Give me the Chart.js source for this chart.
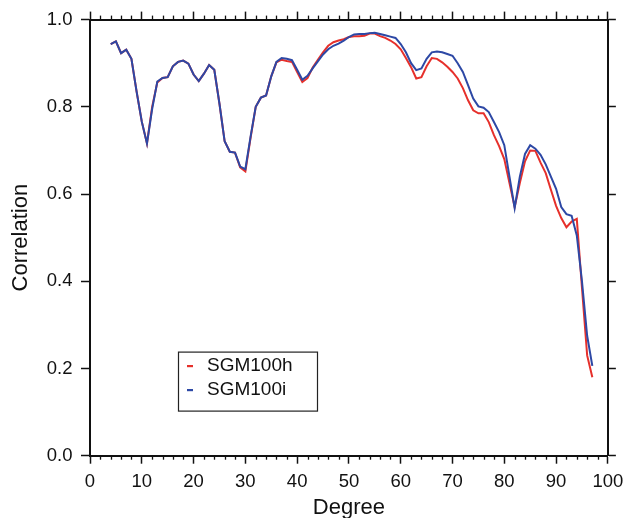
<!DOCTYPE html>
<html><head><meta charset="utf-8">
<script src="https://cdn.jsdelivr.net/npm/chart.js@4.4.1/dist/chart.umd.min.js"></script>
<style>html,body{margin:0;padding:0;background:#fff}#wrap{width:630px;height:518px;position:relative}</style>
</head><body><div id="wrap"><canvas id="c" width="630" height="518"></canvas></div>
<script>
const degrees = [4,5,6,7,8,9,10,11,12,13,14,15,16,17,18,19,20,21,22,23,24,25,26,27,28,29,30,31,32,33,34,35,36,37,38,39,40,41,42,43,44,45,46,47,48,49,50,51,52,53,54,55,56,57,58,59,60,61,62,63,64,65,66,67,68,69,70,71,72,73,74,75,76,77,78,79,80,81,82,83,84,85,86,87,88,89,90,91,92,93,94,95,96,97];
const sgm100h = [0.944,0.950,0.923,0.931,0.910,0.835,0.766,0.716,0.800,0.856,0.866,0.868,0.893,0.903,0.906,0.899,0.874,0.859,0.876,0.896,0.885,0.807,0.721,0.697,0.695,0.661,0.652,0.728,0.800,0.821,0.826,0.870,0.902,0.908,0.905,0.903,0.880,0.857,0.866,0.890,0.908,0.925,0.940,0.948,0.952,0.955,0.960,0.962,0.962,0.963,0.968,0.968,0.962,0.958,0.952,0.944,0.932,0.912,0.891,0.865,0.868,0.893,0.912,0.910,0.902,0.892,0.880,0.865,0.843,0.815,0.792,0.785,0.785,0.765,0.735,0.710,0.680,0.625,0.570,0.625,0.675,0.700,0.699,0.672,0.648,0.610,0.573,0.545,0.524,0.537,0.543,0.385,0.230,0.180];
const sgm100i = [0.944,0.950,0.923,0.931,0.910,0.835,0.766,0.716,0.795,0.858,0.866,0.868,0.893,0.903,0.906,0.899,0.874,0.859,0.876,0.896,0.885,0.807,0.721,0.697,0.695,0.663,0.657,0.731,0.800,0.821,0.826,0.870,0.903,0.912,0.910,0.907,0.885,0.862,0.871,0.888,0.904,0.920,0.932,0.940,0.945,0.952,0.960,0.966,0.967,0.967,0.969,0.970,0.967,0.964,0.961,0.958,0.944,0.925,0.900,0.884,0.888,0.910,0.925,0.927,0.925,0.921,0.917,0.900,0.880,0.850,0.819,0.801,0.798,0.788,0.765,0.742,0.712,0.640,0.568,0.640,0.692,0.712,0.704,0.690,0.668,0.640,0.612,0.570,0.554,0.550,0.505,0.400,0.275,0.206];
const seriesNames = ['SGM100h','SGM100i'];
const seriesColors = ['#e6302b','#2d48a5'];
const xTicks = [0,10,20,30,40,50,60,70,80,90,100];
const xMinorTicks = [2,4,6,8,12,14,16,18,22,24,26,28,32,34,36,38,42,44,46,48,52,54,56,58,62,64,66,68,72,74,76,78,82,84,86,88,92,94,96,98];
const yTicks = [0,0.2,0.4,0.6,0.8,1.0];

const FONT = "'Liberation Sans', Arial, Helvetica, sans-serif";
const INK = '#111';
Chart.defaults.color = INK;
Chart.defaults.font.family = FONT;

const toPts = vals => degrees.map((d, i) => ({x: d, y: vals[i]}));
const setTicks = arr => s => { s.ticks = arr.map(v => ({value: v})); };

const frameTicks = {
  id: 'frameTicks',
  afterDraw(chart) {
    const {ctx, chartArea: a, scales} = chart;
    ctx.save();
    ctx.strokeStyle = INK; ctx.lineWidth = 1.3;
    xMinorTicks.forEach(v => {
      const px = Math.round(scales.x.getPixelForValue(v)) + 0.5;
      ctx.beginPath(); ctx.moveTo(px, a.bottom); ctx.lineTo(px, a.bottom + 4); ctx.stroke();
      ctx.beginPath(); ctx.moveTo(px, a.top); ctx.lineTo(px, a.top - 4); ctx.stroke();
    });
    // legend box
    const bx = a.left + 88, by = a.top + 332, bw = 139, bh = 59;
    ctx.lineWidth = 1.2; ctx.strokeStyle = '#222';
    ctx.strokeRect(bx + 0.5, by + 0.5, bw, bh);
    ctx.font = '19px ' + FONT; ctx.textBaseline = 'middle'; ctx.fillStyle = INK;
    seriesNames.forEach((n, i) => {
      const cy = by + 14.5 + i * 24;
      ctx.strokeStyle = seriesColors[i]; ctx.lineWidth = 2.2;
      ctx.beginPath(); ctx.moveTo(bx + 9, cy); ctx.lineTo(bx + 15, cy); ctx.stroke();
      ctx.fillText(n, bx + 29, cy);
    });
    ctx.restore();
  }
};

new Chart(document.getElementById('c'), {
  type: 'line',
  data: {
    datasets: [
      {label: seriesNames[0], data: toPts(sgm100h), borderColor: seriesColors[0], borderWidth: 2, pointRadius: 0, tension: 0, order: 1},
      {label: seriesNames[1], data: toPts(sgm100i), borderColor: seriesColors[1], borderWidth: 2, pointRadius: 0, tension: 0, order: 0}
    ]
  },
  options: {
    responsive: false, animation: false, devicePixelRatio: 1,
    layout: {padding: 0},
    plugins: {legend: {display: false}, tooltip: {enabled: false}},
    scales: {
      x: {
        type: 'linear', position: 'bottom', min: 0, max: 100,
        afterBuildTicks: setTicks(xTicks),
        afterFit: s => { s.height = 62.3; },
        ticks: {font: {size: 18.5}, padding: 6.7, maxRotation: 0, autoSkip: false, color: INK, callback: v => String(v)},
        grid: {drawOnChartArea: false, tickLength: 8, tickColor: INK, tickWidth: 1.5},
        border: {color: INK, width: 2},
        title: {display: true, text: 'Degree', font: {size: 22, lineHeight: 0.9}, padding: 0, color: INK}
      },
      x2: {
        type: 'linear', position: 'top', min: 0, max: 100,
        afterBuildTicks: setTicks(xTicks),
        afterFit: s => { s.height = 18.3; },
        ticks: {display: false},
        grid: {drawOnChartArea: false, tickLength: 8, tickColor: INK, tickWidth: 1.5},
        border: {color: INK, width: 2}
      },
      y: {
        type: 'linear', position: 'left', min: 0, max: 1,
        afterBuildTicks: setTicks(yTicks),
        afterFit: s => { s.width = 90; },
        ticks: {font: {size: 18.5}, padding: 8.5, color: INK, callback: v => v.toFixed(1)},
        grid: {drawOnChartArea: false, tickLength: 9, tickColor: INK, tickWidth: 1.5},
        border: {color: INK, width: 2},
        title: {display: true, text: 'Correlation', font: {size: 22}, padding: {top: 7.5, bottom: 0}, color: INK}
      },
      y2: {
        type: 'linear', position: 'right', min: 0, max: 1,
        afterBuildTicks: setTicks(yTicks),
        afterFit: s => { s.width = 15.3; },
        ticks: {display: false},
        grid: {drawOnChartArea: false, tickLength: 8, tickColor: INK, tickWidth: 1.5},
        border: {color: INK, width: 2}
      }
    }
  },
  plugins: [frameTicks]
});
</script>
</body></html>
